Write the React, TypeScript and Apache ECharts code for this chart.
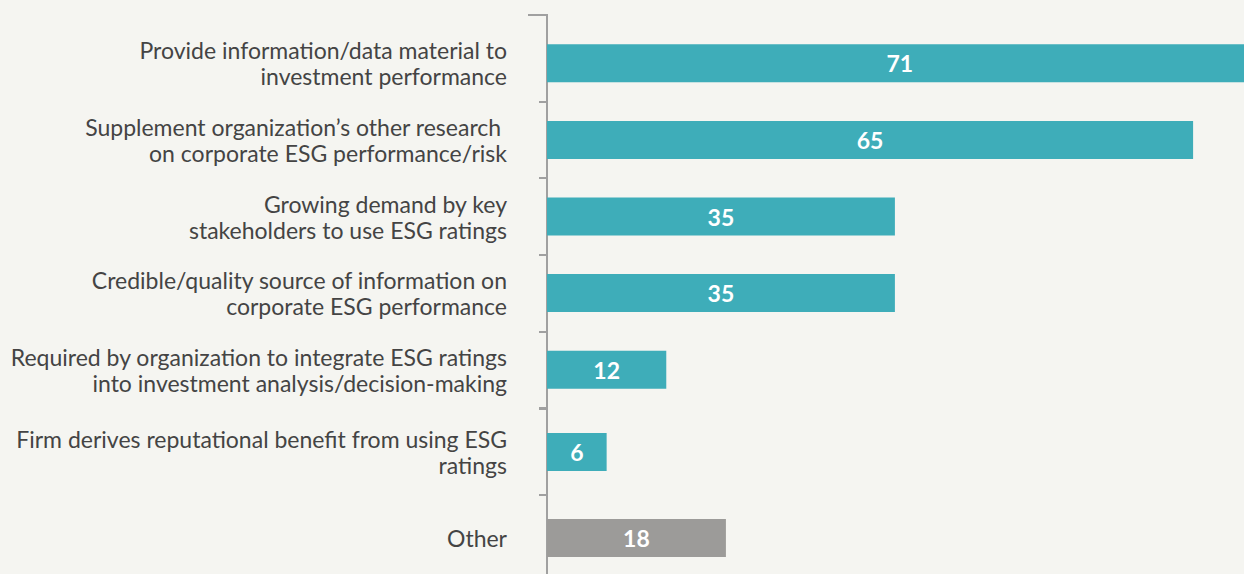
import React, { useEffect, useRef } from "react";
import * as echarts from "echarts";

const categories = [
  "Provide information/data material to\ninvestment performance",
  "Supplement organization\u2019s other research \non corporate ESG performance/risk",
  "Growing demand by key\nstakeholders to use ESG ratings",
  "Credible/quality source of information on\ncorporate ESG performance",
  "Required by organization to integrate ESG ratings\ninto investment analysis/decision-making",
  "Firm derives reputational benefit from using ESG\nratings",
  "Other",
];
const values = [71, 65, 35, 35, 12, 6, 18];
const otherCategory = "Other";
const groupSplit = 5;

const BG = "#f5f5f1";
const TEAL = "#3eadb9";
const GREY = "#9c9b99";
const AXIS = "#a0a0a0";
const TEXT = "#444444";

export default function App() {
  const ref = useRef<HTMLDivElement>(null);
  useEffect(() => {
    document.body.style.margin = "0";
    document.body.style.background = BG;
    document.body.style.overflow = "hidden";
    const chart = echarts.init(ref.current!, null, { renderer: "svg" });
    const groups = [
      { cats: categories.slice(0, groupSplit), vals: values.slice(0, groupSplit) },
      { cats: categories.slice(groupSplit), vals: values.slice(groupSplit) },
    ];
    const gridPos = [
      { top: 25, height: 383 },
      { top: 409, height: 172 },
    ];
    const option: any = {
      animation: false,
      backgroundColor: BG,
      grid: gridPos.map((g) => ({ left: 547, width: 745.5, top: g.top, height: g.height, containLabel: false })),
      xAxis: groups.map((_, i) => ({
        type: "value",
        gridIndex: i,
        min: 0,
        max: 75,
        show: false,
      })),
      yAxis: groups.map((g, i) => ({
        type: "category",
        gridIndex: i,
        inverse: true,
        data: g.cats,
        axisLine: { show: true, lineStyle: { color: AXIS, width: 2, cap: "square" } },
        axisTick: {
          show: true,
          length: 8,
          lineStyle: { color: AXIS, width: 2 },
          interval: i === 0 ? (idx: number) => idx !== 0 : 0,
        },
        axisLabel: {
          interval: 0,
          margin: 40,
          fontSize: 23,
          lineHeight: 26,
          color: TEXT,
          fontFamily: "Lato",
          align: "right",
        },
        splitLine: { show: false },
      })),
      series: groups.map((g, i) => ({
        type: "bar",
        xAxisIndex: i,
        yAxisIndex: i,
        barWidth: 38,
        clip: false,
        data: g.vals.map((v, j) => ({
          value: v,
          itemStyle: { color: g.cats[j] === otherCategory ? GREY : TEAL },
        })),
        label: {
          show: true,
          position: "inside",
          color: "#ffffff",
          fontWeight: "bold",
          fontSize: 23,
          fontFamily: "Lato",
        },
      })),
      graphic: [
        {
          type: "polyline",
          shape: { points: [[528, 15], [547, 15], [547, 26]] },
          style: { stroke: AXIS, lineWidth: 2, fill: "none" },
        },
      ],
    };
    chart.setOption(option);
    return () => chart.dispose();
  }, []);
  return (
    <div style={{ position: "absolute", left: 0, top: 0, width: 1244, height: 574, overflow: "hidden", background: BG }}>
      <div ref={ref} style={{ width: 1300, height: 590 }} />
    </div>
  );
}
